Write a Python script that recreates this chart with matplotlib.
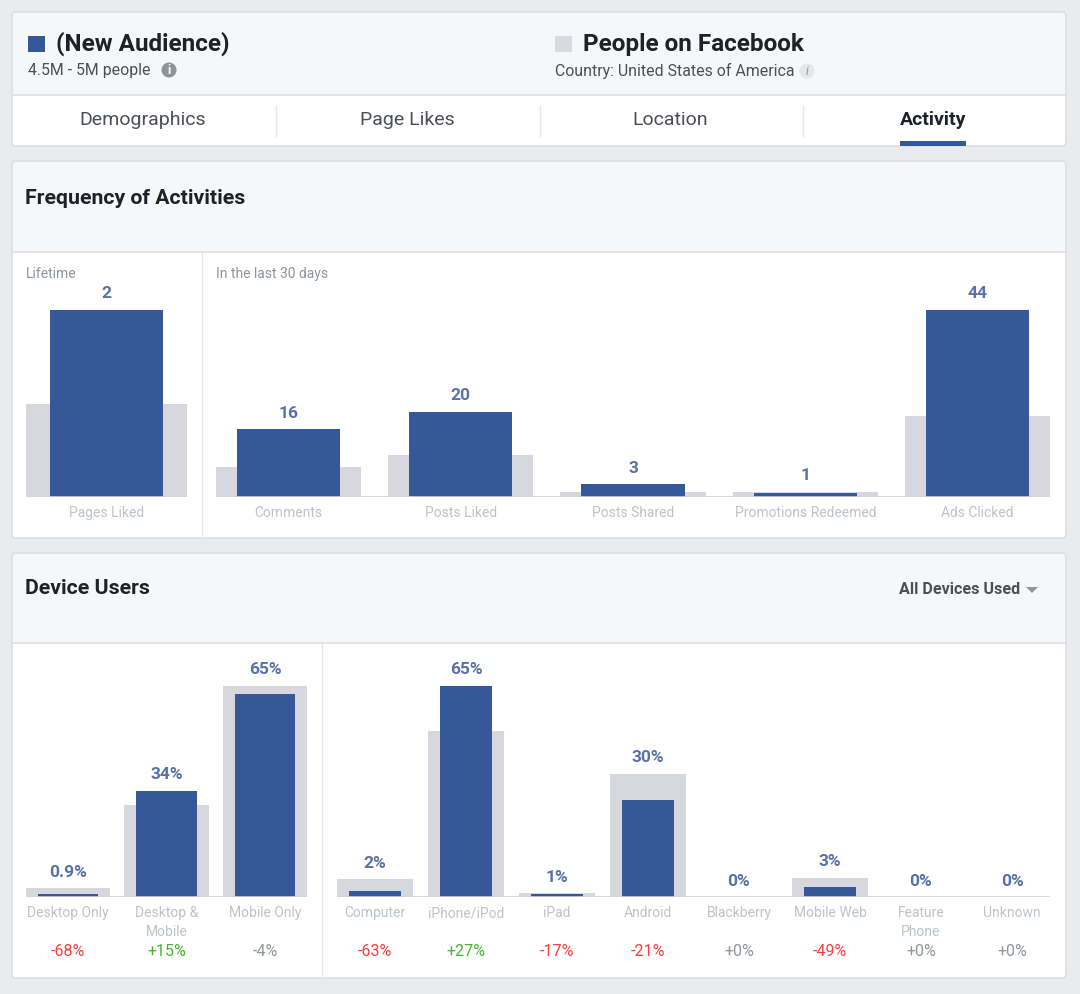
import matplotlib.pyplot as plt
from matplotlib.patches import FancyBboxPatch, Rectangle, Circle, Polygon

plt.rcParams['font.family'] = ['Roboto', 'DejaVu Sans']

W, H = 1080, 994

# Frequency of activities (audience = blue, facebook = grey)
lifetime_cats = ['Pages Liked']
lifetime_audience = [2]
lifetime_facebook = [1.0]

recent_cats = ['Comments', 'Posts Liked', 'Posts Shared', 'Promotions Redeemed', 'Ads Clicked']
recent_audience = [16, 20, 3, 1, 44]
recent_facebook = [7.1, 9.9, 1.2, 1.2, 19.1]

# Device users (percent)
usage_cats = ['Desktop Only', 'Desktop &\nMobile', 'Mobile Only']
usage_audience = [0.9, 34, 65]
usage_facebook = [2.8, 29.6, 67.7]
usage_change = [-68, 15, -4]

device_cats = ['Computer', 'iPhone/iPod', 'iPad', 'Android', 'Blackberry',
               'Mobile Web', 'Feature\nPhone', 'Unknown']
device_audience = [2, 65, 1, 30, 0, 3, 0, 0]
device_facebook = [5.4, 51.2, 1.2, 38.0, 0, 5.9, 0, 0]
device_change = [-63, 27, -17, -21, 0, -49, 0, 0]

tabs = ['Demographics', 'Page Likes', 'Location', 'Activity']

# colours
BG = '#e9ebee'
HEAD = '#f6f7f9'
BORDER = '#dddfe2'
BLUE = '#365899'
GREY_BAR = '#d6d8dd'
VALUE = '#5872a8'
LABEL = '#bec3c9'
DARK = '#1d2129'
MID = '#4b4f56'
SOFT = '#90949c'
RED = '#fa3e3e'
GREEN = '#42b72a'

fig = plt.figure(figsize=(W / 100, H / 100), dpi=100)
fig.patch.set_facecolor(BG)
bg = fig.add_axes([0, 0, 1, 1])
bg.set_xlim(0, W)
bg.set_ylim(H, 0)
bg.axis('off')


def card(y0, y1, head_bottom):
    bg.add_patch(FancyBboxPatch((12, y0), 1054, y1 - y0, boxstyle='round,pad=0,rounding_size=4',
                                facecolor=HEAD, edgecolor='none', zorder=1))
    bg.add_patch(Rectangle((12.5, head_bottom), 1053, y1 - head_bottom - 3, facecolor='white',
                           edgecolor='none', zorder=1))
    bg.add_patch(FancyBboxPatch((12.5, y1 - 8), 1053, 7.5, boxstyle='round,pad=0,rounding_size=3',
                                facecolor='white', edgecolor='none', zorder=1))
    bg.plot([12, 1066], [head_bottom, head_bottom], color=BORDER, lw=1.2, zorder=2)
    bg.add_patch(FancyBboxPatch((12, y0), 1054, y1 - y0, boxstyle='round,pad=0,rounding_size=4',
                                facecolor='none', edgecolor=BORDER, lw=1.2, zorder=3))


# top card with audience names and tabs
card(12, 146, 95)
bg.add_patch(Rectangle((28, 36), 17, 16, facecolor=BLUE, zorder=4))
bg.text(56, 44, '(New Audience)', fontsize=17.5, fontweight='bold', color=DARK, va='center', zorder=4)
bg.text(28, 71, '4.5M - 5M people', fontsize=11.4, color=MID, va='center', zorder=4)
bg.add_patch(Circle((169, 70), 7.5, facecolor='#8d949e', zorder=4))
bg.text(169, 70.5, 'i', fontsize=9, fontweight='bold', color='white', ha='center', va='center', zorder=5)

bg.add_patch(Rectangle((555, 36), 17, 16, facecolor='#d8dadf', zorder=4))
bg.text(583, 44, 'People on Facebook', fontsize=17.5, fontweight='bold', color=DARK, va='center', zorder=4)
bg.text(555, 71, 'Country: United States of America', fontsize=11.4, color=MID, va='center', zorder=4)
bg.add_patch(Circle((807, 71), 7.5, facecolor='#e4e6ea', zorder=4))
bg.text(807, 71.5, 'i', fontsize=8.5, style='italic', color=SOFT, ha='center', va='center', zorder=5)

tab_x = [143, 407, 670, 933]
for tx, name in zip(tab_x, tabs):
    active = name == 'Activity'
    bg.text(tx, 120, name, fontsize=14, ha='center', va='center', zorder=4,
            color=DARK if active else MID, fontweight='bold' if active else 'normal')
for sx in [276, 540, 803]:
    bg.plot([sx, sx], [106, 136], color='#e5e6e9', lw=1, zorder=4)
bg.add_patch(Rectangle((900, 141), 66, 5, facecolor=BLUE, zorder=4))

# frequency card
card(161, 538, 251.5)
bg.text(25, 198, 'Frequency of Activities', fontsize=15.3, fontweight='bold', color=DARK, va='center', zorder=4)
bg.plot([202, 202], [252, 538], color='#e5e6e9', lw=1, zorder=4)
bg.text(26, 274, 'Lifetime', fontsize=10, color=SOFT, va='center', zorder=4)
bg.text(216, 274, 'In the last 30 days', fontsize=10, color=SOFT, va='center', zorder=4)

# device card
card(553, 978, 642.5)
bg.text(25, 589, 'Device Users', fontsize=15.3, fontweight='bold', color=DARK, va='center', zorder=4)
bg.text(1020, 589, 'All Devices Used', fontsize=11.6, fontweight='bold', color=MID,
        ha='right', va='center', zorder=4)
bg.add_patch(Polygon([[1026, 587], [1038, 587], [1032, 593]], closed=True, facecolor=SOFT, zorder=4))
bg.plot([322, 322], [643, 978], color='#e5e6e9', lw=1, zorder=4)


def change_color(c):
    if c <= -5:
        return RED
    if c >= 5:
        return GREEN
    return SOFT


def bar_panel(x0, x1, base_y, top_y, px_per_unit, cats, audience, facebook,
              gray_w, blue_w, fmt, changes=None):
    ax = fig.add_axes([x0 / W, 1 - base_y / H, (x1 - x0) / W, (base_y - top_y) / H])
    ax.patch.set_alpha(0)
    n = len(cats)
    xs = list(range(n))
    ax.set_xlim(-0.5, n - 0.5)
    ax.set_ylim(0, (base_y - top_y) / px_per_unit)
    ax.axis('off')
    ax.bar(xs, facebook, width=gray_w, color=GREY_BAR, zorder=1)
    ax.bar(xs, audience, width=blue_w, color=BLUE, zorder=2)
    ax.hlines(0, -gray_w / 2, n - 1 + gray_w / 2, color='#d3d6db', lw=1.2, zorder=3)
    for i in xs:
        top = max(audience[i], facebook[i])
        ax.annotate(fmt(audience[i]), (i, top), xytext=(0, 16), textcoords='offset pixels',
                    ha='center', va='center', fontsize=12.5, fontweight='bold', color=VALUE,
                    annotation_clip=False)
        ax.annotate(cats[i], (i, 0), xytext=(0, -9), textcoords='offset pixels',
                    ha='center', va='top', fontsize=10, color=LABEL, linespacing=1.5,
                    annotation_clip=False)
        if changes is not None:
            c = changes[i]
            ax.annotate(f'{c:+d}%', (i, 0), xytext=(0, -55), textcoords='offset pixels',
                        ha='center', va='center', fontsize=11.5, color=change_color(c),
                        annotation_clip=False)
    return ax


bar_panel(26, 187, 497, 270, 93.5, lifetime_cats, lifetime_audience, lifetime_facebook,
          1.0, 0.70, lambda v: f'{v:g}')
bar_panel(202.3, 1063.7, 497, 270, 4.25, recent_cats, recent_audience, recent_facebook,
          0.842, 0.598, lambda v: f'{v:g}')
bar_panel(18.75, 314.25, 897, 655, 3.123, usage_cats, usage_audience, usage_facebook,
          0.853, 0.61, lambda v: f'{v:g}%', usage_change)
bar_panel(329.5, 1057.5, 897, 655, 3.25, device_cats, device_audience, device_facebook,
          0.835, 0.58, lambda v: f'{v:g}%', device_change)

fig.savefig('out.png', dpi=100, facecolor=BG)
